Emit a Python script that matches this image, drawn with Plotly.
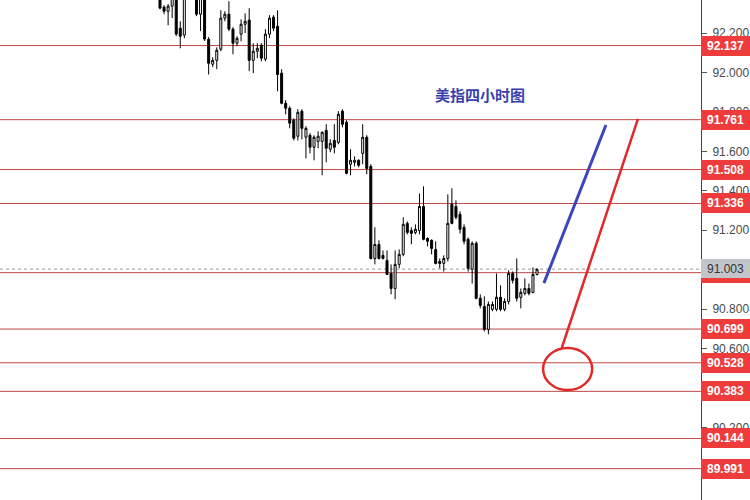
import plotly.graph_objects as go

# OHLC data (US Dollar Index, 4-hour)
opens = [92.41, 92.332, 92.311, 92.337, 92.41, 92.225, 92.19, 92.40, 92.47, 92.40,
         92.296, 92.40, 92.169, 92.042, 92.062, 92.118, 92.276, 92.296, 92.22, 92.149,
         92.195, 92.245, 92.266, 92.062, 92.108, 92.139, 92.068, 92.195, 92.281, 92.235,
         91.997, 91.844, 91.819, 91.758, 91.677, 91.804, 91.672, 91.682, 91.621, 91.651,
         91.651, 91.707, 91.611, 91.656, 91.646, 91.804, 91.748, 91.535, 91.545, 91.555,
         91.59, 91.672, 91.524, 91.057, 91.128, 91.073, 91.047, 90.981, 90.905, 91.027,
         91.078, 91.235, 91.199, 91.189, 91.199, 91.321, 91.159, 91.149, 91.103, 91.042,
         91.032, 91.057, 91.332, 91.321, 91.281, 91.215, 91.154, 91.002, 91.134, 90.855,
         90.814, 90.697, 90.799, 90.799, 90.86, 90.799, 90.839, 90.981, 90.956, 90.86,
         90.88, 90.905, 90.885, 90.976]
highs = [92.46, 92.342, 92.347, 92.44, 92.46, 92.26, 92.44, 92.50, 92.50, 92.45,
         92.45, 92.44, 92.18, 92.078, 92.128, 92.316, 92.311, 92.362, 92.23, 92.184,
         92.27, 92.30, 92.326, 92.149, 92.149, 92.149, 92.22, 92.291, 92.291, 92.316,
         92.017, 91.86, 91.829, 91.768, 91.814, 91.814, 91.728, 91.692, 91.682, 91.702,
         91.702, 91.738, 91.662, 91.738, 91.804, 91.814, 91.758, 91.611, 91.575, 91.56,
         91.738, 91.682, 91.535, 91.215, 91.149, 91.098, 91.098, 91.027, 91.098, 91.103,
         91.266, 91.245, 91.215, 91.23, 91.387, 91.423, 91.164, 91.154, 91.144, 91.057,
         91.073, 91.382, 91.413, 91.352, 91.296, 91.23, 91.164, 91.144, 91.144, 90.875,
         90.865, 90.839, 90.839, 90.981, 90.921, 90.855, 90.997, 90.991, 91.057, 90.905,
         90.956, 90.93, 91.012, 91.007]
lows = [92.32, 92.296, 92.240, 92.276, 92.185, 92.123, 92.174, 92.38, 92.37, 92.286,
        92.21, 92.16, 91.99, 92.027, 92.017, 92.108, 92.26, 92.21, 92.093, 92.134,
        92.159, 92.20, 92.007, 91.997, 92.073, 92.057, 92.057, 92.174, 92.21, 91.905,
        91.839, 91.788, 91.717, 91.656, 91.656, 91.661, 91.565, 91.59, 91.555, 91.616,
        91.479, 91.545, 91.596, 91.59, 91.636, 91.722, 91.484, 91.479, 91.524, 91.519,
        91.535, 91.484, 91.052, 91.027, 91.052, 91.052, 90.976, 90.875, 90.85, 91.007,
        91.068, 91.179, 91.129, 91.179, 91.179, 91.149, 91.118, 91.078, 91.027, 91.007,
        90.991, 91.042, 91.23, 91.255, 91.184, 91.129, 90.991, 90.93, 90.85, 90.804,
        90.687, 90.672, 90.789, 90.789, 90.789, 90.789, 90.824, 90.93, 90.839, 90.804,
        90.87, 90.87, 90.88, 90.971]
closes = [92.327, 92.311, 92.337, 92.387, 92.195, 92.184, 92.387, 92.47, 92.40, 92.296,
          92.40, 92.17, 92.047, 92.062, 92.113, 92.276, 92.296, 92.22, 92.149, 92.174,
          92.245, 92.26, 92.062, 92.108, 92.123, 92.073, 92.195, 92.276, 92.225, 91.99,
          91.844, 91.819, 91.743, 91.667, 91.798, 91.717, 91.717, 91.621, 91.672, 91.677,
          91.697, 91.616, 91.641, 91.621, 91.788, 91.738, 91.489, 91.555, 91.555, 91.53,
          91.672, 91.514, 91.057, 91.128, 91.057, 91.057, 90.976, 90.905, 91.027, 91.078,
          91.23, 91.189, 91.184, 91.205, 91.321, 91.154, 91.144, 91.108, 91.032, 91.032,
          91.057, 91.235, 91.235, 91.266, 91.205, 91.144, 91.007, 91.134, 90.855, 90.819,
          90.697, 90.824, 90.824, 90.86, 90.799, 90.839, 90.981, 90.946, 90.855, 90.885,
          90.905, 90.88, 90.976, 91.002]
bars = list(range(len(opens)))

# Horizontal support/resistance levels
levels = [92.137, 91.761, 91.508, 91.336, 90.985, 90.699, 90.528, 90.383, 90.144, 89.991]
current_price = 91.003

# Drawn trend projections (bar index, price)
blue_x = [94.7, 110.0]
blue_y = [90.932, 91.734]
red_x = [99.1, 117.9]
red_y = [90.603, 91.765]
circle_x = [94.5, 106.6]
circle_y = [90.39, 90.603]

title_text = "美指四小时图"
title_pos = (78.9, 91.887)

LEVEL_RED = "#c04848"
LABEL_RED = "#ee3b3b"

fig = go.Figure()
fig.add_trace(go.Candlestick(
    x=bars, open=opens, high=highs, low=lows, close=closes,
    increasing=dict(line=dict(color="black", width=1), fillcolor="white"),
    decreasing=dict(line=dict(color="black", width=1), fillcolor="black"),
    whiskerwidth=0, showlegend=False, hoverinfo="skip"))

fig.add_trace(go.Scatter(x=blue_x, y=blue_y, mode="lines",
                         line=dict(color="#3d45bd", width=3), showlegend=False, hoverinfo="skip"))
fig.add_trace(go.Scatter(x=red_x, y=red_y, mode="lines",
                         line=dict(color="#e02a2a", width=2.5), showlegend=False, hoverinfo="skip"))

shapes = []
for lv in levels:
    shapes.append(dict(type="line", xref="paper", x0=0, x1=1, yref="y", y0=lv, y1=lv,
                       line=dict(color=LEVEL_RED, width=1), layer="below"))
shapes.append(dict(type="line", xref="paper", x0=0, x1=1, yref="y", y0=current_price, y1=current_price,
                   line=dict(color="#999999", width=1, dash="dot"), layer="below"))
shapes.append(dict(type="circle", xref="x", yref="y",
                   x0=circle_x[0], x1=circle_x[1], y0=circle_y[0], y1=circle_y[1],
                   line=dict(color="#e02a2a", width=2.5)))

annotations = []
for lv in levels:
    annotations.append(dict(xref="paper", x=1, xanchor="left", yref="y", y=lv, yanchor="middle",
                            text="<b>%.3f</b>" % lv, showarrow=False, bgcolor=LABEL_RED,
                            font=dict(color="white", size=12, family="Liberation Sans, Arial"),
                            width=45, height=16, borderpad=2, borderwidth=0))
annotations.append(dict(xref="paper", x=1, xanchor="left", yref="y", y=current_price, yanchor="middle",
                        yshift=1, text="%.3f" % current_price, showarrow=False, bgcolor="#c3c5cc",
                        font=dict(color="#333333", size=12, family="Liberation Sans, Arial"),
                        width=45, height=15, borderpad=2, borderwidth=0))
annotations.append(dict(xref="x", yref="y", x=title_pos[0], y=title_pos[1], text="<b>%s</b>" % title_text,
                        showarrow=False, font=dict(color="#3a3fae", size=15, family="Noto Sans CJK SC")))

fig.update_layout(
    width=750, height=500,
    margin=dict(l=0, r=49, t=0, b=0, pad=0, autoexpand=False),
    paper_bgcolor="white", plot_bgcolor="white",
    shapes=shapes, annotations=annotations,
    xaxis=dict(range=[-39.47, 133.45], visible=False, rangeslider=dict(visible=False),
               fixedrange=True, automargin=False),
    yaxis=dict(range=[89.832, 92.368], side="right", showgrid=False, zeroline=False, automargin=False,
               tick0=90.0, dtick=0.2, tickformat=".3f", ticks="outside", ticklen=5,
               ticklabelstandoff=3,
               tickcolor="#555555", showline=True, linecolor="#444444", linewidth=1,
               tickfont=dict(color="#4a4a4a", size=12, family="Liberation Sans, Arial")),
)

fig.write_html("out.html", config={"displayModeBar": False})

# remove the browser's default page margin so the figure sits at the window's corner
with open("out.html", "r", encoding="utf-8") as f:
    html = f.read()
html = html.replace("<head>", "<head><style>html,body{margin:0;padding:0;overflow:hidden;}</style>", 1)
with open("out.html", "w", encoding="utf-8") as f:
    f.write(html)
